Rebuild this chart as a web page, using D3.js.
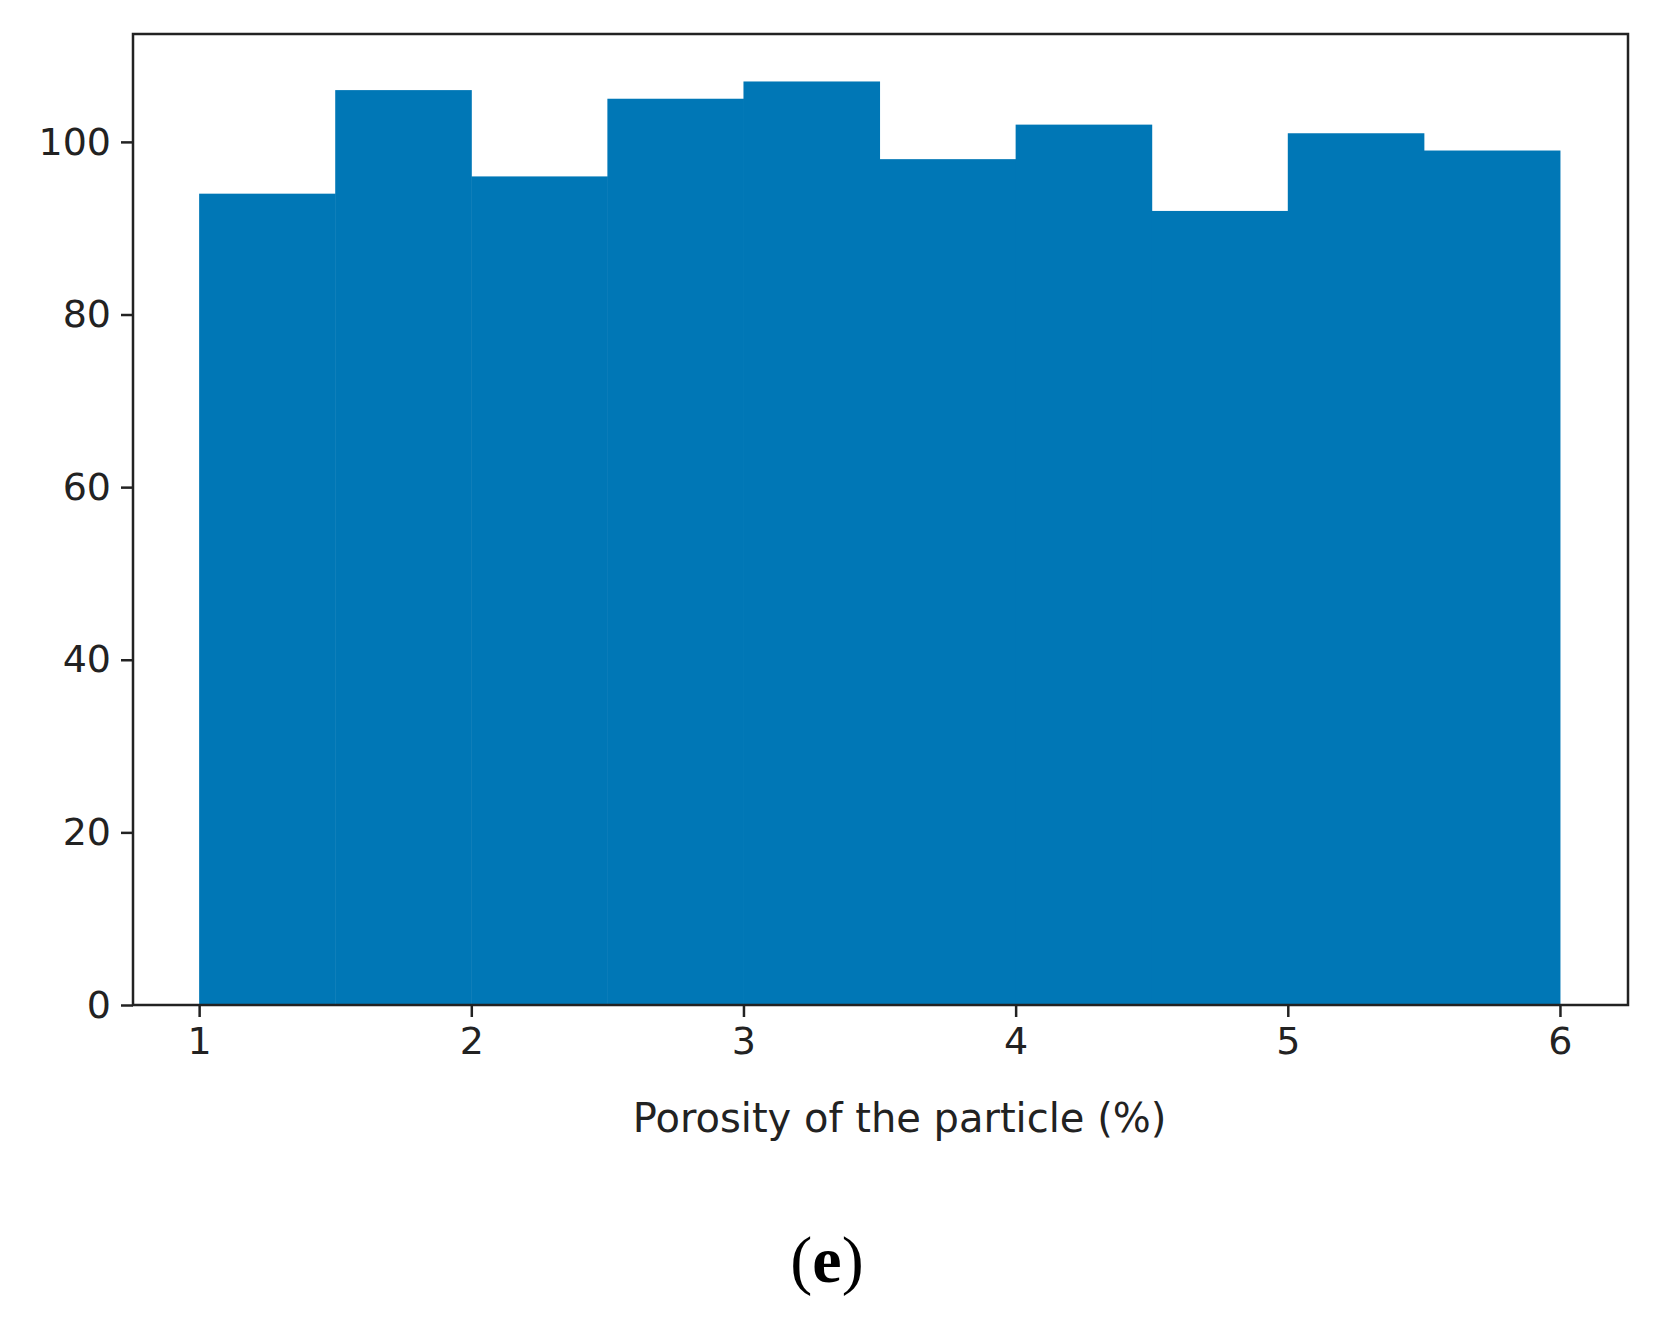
<!DOCTYPE html>
<html><head><meta charset="utf-8">
<script src="https://cdn.jsdelivr.net/npm/d3@7"></script>
<style>body{margin:0;background:#fff}</style>
</head><body><svg id="c"></svg>
<script>
const binEdges = [1, 1.5, 2, 2.5, 3, 3.5, 4, 4.5, 5, 5.5, 6];
const counts = [94, 106, 96, 105, 107, 98, 102, 92, 101, 99];
const xTicks = [1, 2, 3, 4, 5, 6];
const yTicks = [0, 20, 40, 60, 80, 100];

const W = 1662, H = 1323;
const m = {l: 133, r: 34, t: 34, b: 318};
const svg = d3.select("#c").attr("width", W).attr("height", H);
const x = d3.scaleLinear().domain([0.757, 6.25]).range([m.l, W - m.r]);
const y = d3.scaleLinear().domain([0, 112.5]).range([H - m.b, m.t]);

svg.selectAll("rect.bar").data(counts).enter().append("rect")
  .attr("class", "bar")
  .attr("x", (d, i) => x(binEdges[i]))
  .attr("width", (d, i) => x(binEdges[i + 1]) - x(binEdges[i]) + 0.5)
  .attr("y", d => y(d))
  .attr("height", d => y(0) - y(d))
  .attr("fill", "#0077b6");

svg.append("rect").attr("x", m.l).attr("y", m.t)
  .attr("width", W - m.r - m.l).attr("height", H - m.b - m.t)
  .attr("fill", "none").attr("stroke", "#222").attr("stroke-width", 2.5);

const font = "DejaVu Sans";
const xa = svg.append("g").attr("transform", `translate(0,${H - m.b})`)
  .call(d3.axisBottom(x).tickValues(xTicks).tickSize(12).tickPadding(10).tickFormat(d3.format("d")));
const ya = svg.append("g").attr("transform", `translate(${m.l},0)`)
  .call(d3.axisLeft(y).tickValues(yTicks).tickSize(12).tickPadding(10));
[xa, ya].forEach(a => {
  a.select(".domain").remove();
  a.selectAll("line").attr("stroke", "#222").attr("stroke-width", 2.5);
  a.selectAll("text").attr("font-family", font).attr("font-size", 38).attr("fill", "#222");
});

svg.append("text").attr("x", (x(1) + x(6)) / 2 + 20).attr("y", 1132)
  .attr("text-anchor", "middle").attr("font-family", font).attr("font-size", 40)
  .attr("fill", "#222").text("Porosity of the particle (%)");

svg.append("text").attr("x", 827).attr("y", 1282)
  .attr("text-anchor", "middle").attr("font-family", "Liberation Serif").attr("font-size", 66)
  .attr("fill", "#000").html('(<tspan font-weight="bold">e</tspan>)');
</script></body></html>
